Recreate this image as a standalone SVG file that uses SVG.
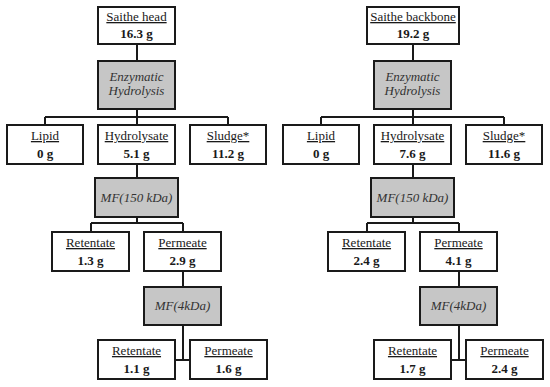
<svg xmlns="http://www.w3.org/2000/svg" width="550" height="387" viewBox="0 0 550 387">
<style>
.box{fill:#fff;stroke:#1a1a1a;stroke-width:2}
.proc{fill:#c6c6c6;stroke:#1a1a1a;stroke-width:2}
text{font-family:'Liberation Serif','Times New Roman',Times,serif;font-size:13px;fill:#1a1a1a;text-anchor:middle}
.lbl{text-decoration:underline}
.val{font-weight:bold}
.it{font-style:italic;fill:#333}
.con{fill:none;stroke:#1a1a1a;stroke-width:2}
</style>
<rect width="550" height="387" fill="#fff"/>
<g id="connectors">
<path class="con" d="M137,44V61M137,109V125M45,117H228M45,117V125M228,117V125M137,164V178M137,217V223M91,223H183M91,223V232M183,223V232M183,271V287M183,325V360M175,360H190"/>
<path class="con" d="M413,44V61M413,109V125M321,117H504M321,117V125M504,117V125M413,164V178M413,217V223M367,223H459M367,223V232M459,223V232M459,271V287M459,325V360M451,360H466"/>
</g>
<g id="saithe-head"><rect class="box" x="98" y="7" width="77" height="37"/><text class="lbl" x="136.5" y="21">Saithe head</text><text class="val" x="136.5" y="38">16.3 g</text></g>
<g id="enzymatic-left"><rect class="proc" x="98" y="61" width="77" height="48"/><text class="it" x="136.5" y="81">Enzymatic</text><text class="it" x="136.5" y="95">Hydrolysis</text></g>
<g id="lipid-left"><rect class="box" x="7" y="125" width="76" height="39"/><text class="lbl" x="45" y="140">Lipid</text><text class="val" x="45" y="158">0 g</text></g>
<g id="hydrolysate-left"><rect class="box" x="98" y="125" width="77" height="39"/><text class="lbl" x="136.5" y="140">Hydrolysate</text><text class="val" x="136.5" y="158">5.1 g</text></g>
<g id="sludge-left"><rect class="box" x="190" y="125" width="76" height="39"/><text class="lbl" x="228" y="140">Sludge*</text><text class="val" x="228" y="158">11.2 g</text></g>
<g id="mf150-left"><rect class="proc" x="95" y="178" width="83" height="39"/><text class="it" x="136.5" y="202">MF(150 kDa)</text></g>
<g id="retentate1-left"><rect class="box" x="52" y="232" width="77" height="39"/><text class="lbl" x="90.5" y="247">Retentate</text><text class="val" x="90.5" y="265">1.3 g</text></g>
<g id="permeate1-left"><rect class="box" x="144" y="232" width="77" height="39"/><text class="lbl" x="182.5" y="247">Permeate</text><text class="val" x="182.5" y="265">2.9 g</text></g>
<g id="mf4-left"><rect class="proc" x="144" y="287" width="77" height="38"/><text class="it" x="182.5" y="310">MF(4kDa)</text></g>
<g id="retentate2-left"><rect class="box" x="98" y="340" width="77" height="39"/><text class="lbl" x="136.5" y="355">Retentate</text><text class="val" x="136.5" y="373">1.1 g</text></g>
<g id="permeate2-left"><rect class="box" x="190" y="340" width="77" height="39"/><text class="lbl" x="228.5" y="355">Permeate</text><text class="val" x="228.5" y="373">1.6 g</text></g>

<g id="saithe-backbone"><rect class="box" x="367" y="7" width="92" height="37"/><text class="lbl" x="413" y="21">Saithe backbone</text><text class="val" x="413" y="38">19.2 g</text></g>
<g id="enzymatic-right"><rect class="proc" x="374" y="61" width="77" height="48"/><text class="it" x="412.5" y="81">Enzymatic</text><text class="it" x="412.5" y="95">Hydrolysis</text></g>
<g id="lipid-right"><rect class="box" x="283" y="125" width="76" height="39"/><text class="lbl" x="321" y="140">Lipid</text><text class="val" x="321" y="158">0 g</text></g>
<g id="hydrolysate-right"><rect class="box" x="374" y="125" width="77" height="39"/><text class="lbl" x="412.5" y="140">Hydrolysate</text><text class="val" x="412.5" y="158">7.6 g</text></g>
<g id="sludge-right"><rect class="box" x="466" y="125" width="76" height="39"/><text class="lbl" x="504" y="140">Sludge*</text><text class="val" x="504" y="158">11.6 g</text></g>
<g id="mf150-right"><rect class="proc" x="371" y="178" width="83" height="39"/><text class="it" x="412.5" y="202">MF(150 kDa)</text></g>
<g id="retentate1-right"><rect class="box" x="328" y="232" width="77" height="39"/><text class="lbl" x="366.5" y="247">Retentate</text><text class="val" x="366.5" y="265">2.4 g</text></g>
<g id="permeate1-right"><rect class="box" x="420" y="232" width="77" height="39"/><text class="lbl" x="458.5" y="247">Permeate</text><text class="val" x="458.5" y="265">4.1 g</text></g>
<g id="mf4-right"><rect class="proc" x="420" y="287" width="77" height="38"/><text class="it" x="458.5" y="310">MF(4kDa)</text></g>
<g id="retentate2-right"><rect class="box" x="374" y="340" width="77" height="39"/><text class="lbl" x="412.5" y="355">Retentate</text><text class="val" x="412.5" y="373">1.7 g</text></g>
<g id="permeate2-right"><rect class="box" x="466" y="340" width="77" height="39"/><text class="lbl" x="504.5" y="355">Permeate</text><text class="val" x="504.5" y="373">2.4 g</text></g>
</svg>
